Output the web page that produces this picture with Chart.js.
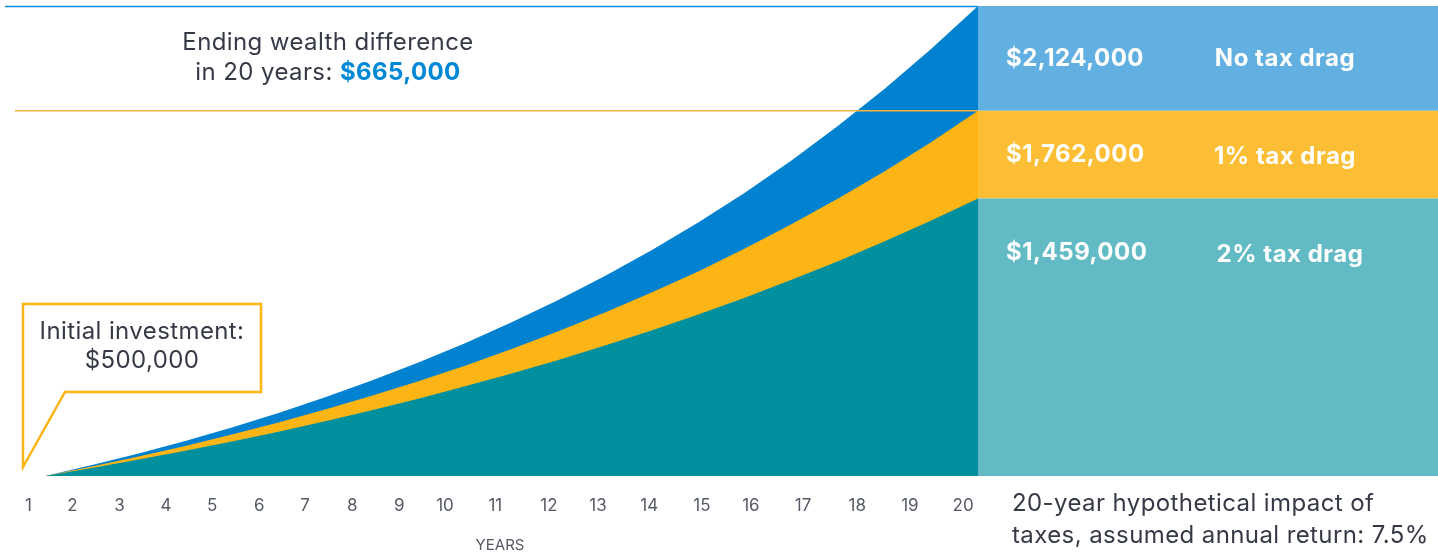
<!DOCTYPE html>
<html>
<head>
<meta charset="utf-8">
<script src="https://cdn.jsdelivr.net/npm/chart.js@4"></script>
<style>
  html, body { margin: 0; padding: 0; background: #fff; }
  #wrap { position: relative; width: 1438px; height: 554px; font-family: Inter, sans-serif; color: #363a46; }
  #chart { position: absolute; left: 0; top: 0; }
  .txt { position: absolute; white-space: nowrap; font-size: 24px; letter-spacing: 0.4px; line-height: 30px; }
  .panel { color: #fff; font-weight: 700; letter-spacing: 0.5px; }
</style>
</head>
<body>
<div id="wrap">
  <canvas id="chart" width="1438" height="554"></canvas>

  <div class="txt" style="left:128px; top:27px; width:400px; text-align:center;">
    Ending wealth difference<br>in 20 years: <b style="color:#0088d6">$665,000</b>
  </div>

  <div class="txt" style="left:23px; top:316px; width:238px; text-align:center; line-height:29px;">
    Initial investment:<br>$500,000
  </div>

  <div class="txt panel" style="left:1006px; top:43px;">$2,124,000</div>
  <div class="txt panel" style="left:1185px; top:43px; width:200px; text-align:center;">No tax drag</div>
  <div class="txt panel" style="left:1006px; top:139px;">$1,762,000</div>
  <div class="txt panel" style="left:1185px; top:141px; width:200px; text-align:center;">1% tax drag</div>
  <div class="txt panel" style="left:1006px; top:237px;">$1,459,000</div>
  <div class="txt panel" style="left:1190px; top:239px; width:200px; text-align:center;">2% tax drag</div>

  <div class="txt" style="left:1012px; top:487px; line-height:32px;">
    20-year hypothetical impact of<br>taxes, assumed annual return: 7.5%
  </div>
</div>

<script>
// Données (valeur du portefeuille, années 0 à 20)
const periods = [0, 1, 2, 3, 4, 5, 6, 7, 8, 9, 10, 11, 12, 13, 14, 15, 16, 17, 18, 19, 20];
const noTaxDrag = [500000, 538000, 578000, 621000, 668000, 718000, 772000, 830000, 892000, 959000,
  1031000, 1108000, 1191000, 1280000, 1376000, 1479000, 1590000, 1710000, 1838000, 1976000, 2124000];
const oneTaxDrag = [500000, 533000, 567000, 604000, 643000, 685000, 730000, 777000, 827000, 881000,
  939000, 1000000, 1065000, 1134000, 1207000, 1286000, 1370000, 1459000, 1553000, 1654000, 1762000];
const twoTaxDrag = [500000, 528000, 557000, 587000, 619000, 653000, 689000, 727000, 767000, 810000,
  854000, 901000, 951000, 1003000, 1058000, 1116000, 1178000, 1242000, 1311000, 1383000, 1459000];
const yearLabels = [1, 2, 3, 4, 5, 6, 7, 8, 9, 10, 11, 12, 13, 14, 15, 16, 17, 18, 19, 20];

// Couleurs
const BLUE = '#0082d0';
const YELLOW = '#fdb515';
const TEAL = '#008f9c';
const BLUE_PANEL = '#62b0e1';
const YELLOW_PANEL = '#fbbe35';
const TEAL_PANEL = '#62bac4';

const toPoints = values => values.map((v, i) => ({ x: periods[i], y: v }));

// Panneau de droite, lignes horizontales et bulle "Initial investment"
const decorPlugin = {
  id: 'decor',
  beforeDraw(chart) {
    const { ctx, chartArea, scales } = chart;
    const y = scales.y;
    const top = y.getPixelForValue(noTaxDrag[noTaxDrag.length - 1]);
    const mid = y.getPixelForValue(oneTaxDrag[oneTaxDrag.length - 1]);
    const low = y.getPixelForValue(twoTaxDrag[twoTaxDrag.length - 1]);
    const x0 = chartArea.right;
    const w = chart.width - x0;
    ctx.save();
    ctx.fillStyle = BLUE_PANEL;
    ctx.fillRect(x0, top, w, mid - top);
    ctx.fillStyle = YELLOW_PANEL;
    ctx.fillRect(x0, mid, w, low - mid);
    ctx.fillStyle = TEAL_PANEL;
    ctx.fillRect(x0, low, w, chartArea.bottom - low);
    ctx.restore();
  },
  afterDatasetsDraw(chart) {
    const { ctx, chartArea, scales } = chart;
    const y = scales.y;
    const top = y.getPixelForValue(noTaxDrag[noTaxDrag.length - 1]);
    const mid = y.getPixelForValue(oneTaxDrag[oneTaxDrag.length - 1]);
    ctx.save();
    ctx.lineWidth = 1.5;
    ctx.strokeStyle = '#0a8ddc';
    ctx.beginPath();
    ctx.moveTo(5, top + 0.5);
    ctx.lineTo(chartArea.right, top + 0.5);
    ctx.stroke();
    ctx.strokeStyle = '#f5b43a';
    ctx.beginPath();
    ctx.moveTo(15, mid);
    ctx.lineTo(chartArea.right, mid);
    ctx.stroke();

    // bulle
    ctx.lineWidth = 2.5;
    ctx.strokeStyle = YELLOW;
    ctx.lineJoin = 'miter';
    ctx.beginPath();
    ctx.moveTo(23, 304);
    ctx.lineTo(261, 304);
    ctx.lineTo(261, 392);
    ctx.lineTo(65, 392);
    ctx.lineTo(23, 467);
    ctx.closePath();
    ctx.stroke();
    ctx.restore();
  }
};

const ctx = document.getElementById('chart').getContext('2d');
const chart = new Chart(ctx, {
  type: 'line',
  data: {
    datasets: [
      { label: '2% tax drag', data: toPoints(twoTaxDrag), backgroundColor: TEAL, borderWidth: 0, fill: 'start', pointRadius: 0 },
      { label: '1% tax drag', data: toPoints(oneTaxDrag), backgroundColor: YELLOW, borderWidth: 0, fill: 'start', pointRadius: 0 },
      { label: 'No tax drag', data: toPoints(noTaxDrag), backgroundColor: BLUE, borderWidth: 0, fill: 'start', pointRadius: 0 }
    ]
  },
  options: {
    responsive: false,
    animation: false,
    layout: { padding: { left: 22, right: 460, top: 6, bottom: 0 } },
    plugins: { legend: { display: false }, tooltip: { enabled: false } },
    elements: { line: { tension: 0 } },
    scales: {
      x: { type: 'linear', display: false, min: -0.5, max: 20 },
      years: {
        type: 'linear',
        position: 'bottom',
        min: -0.5,
        max: 20,
        // emplacement des étiquettes, comme sur l'original
        afterBuildTicks: s => {
          const at = [-0.36, 0.58, 1.59, 2.59, 3.58, 4.59, 5.57, 6.58, 7.59, 8.57,
            9.65, 10.8, 11.85, 12.95, 14.08, 15.13, 16.25, 17.41, 18.54, 19.68];
          s.ticks = at.map(v => ({ value: v }));
        },
        afterFit: s => { s.height = 78; },
        grid: { display: false, drawTicks: false },
        border: { display: false },
        ticks: {
          padding: 20,
          autoSkip: false,
          maxRotation: 0,
          color: '#555a64',
          font: { family: 'Inter', size: 17 },
          callback: (v, i) => yearLabels[i]
        },
        title: {
          display: true,
          text: 'YEARS',
          color: '#555a64',
          font: { family: 'Inter', size: 15 },
          padding: { top: 0, bottom: 0 }
        }
      },
      y: { display: false, min: 500000, max: 2124000 }
    }
  },
  plugins: [decorPlugin]
});
</script>
</body>
</html>
